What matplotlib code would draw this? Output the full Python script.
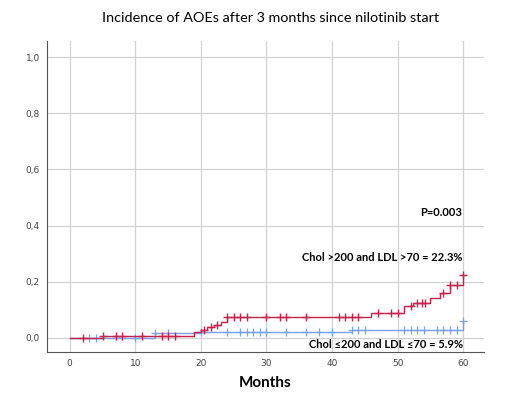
import matplotlib.pyplot as plt
import numpy as np

plt.rcParams['font.family'] = ['Lato', 'DejaVu Sans']

# cumulative incidence steps (months, value)
red_step_x = [0, 5, 19, 20, 21, 22, 23, 24, 46, 51, 52.4, 55, 56.5, 58, 60]
red_step_y = [0, 0.008, 0.02, 0.03, 0.038, 0.046, 0.058, 0.073, 0.09, 0.114, 0.126, 0.144, 0.16, 0.19, 0.223]
red_censor = [2, 5, 7, 8, 11, 14, 15, 16, 20.5, 21.5, 22.5, 24, 25, 26, 27, 30, 32, 33, 36,
              41, 42, 43, 44, 47, 49, 50, 52, 53, 53.7, 54.2, 57, 58, 59, 60]

blue_step_x = [0, 13, 20, 43, 60]
blue_step_y = [0, 0.018, 0.022, 0.028, 0.059]
blue_censor = [3, 4, 10, 13, 15, 20, 24, 26, 27, 28, 29, 30, 33, 36, 38, 40, 43, 44, 45,
               51, 52, 53, 54, 56, 57, 58, 59, 60]

red = '#C4234C'
blue = '#7AA2E3'


def censor_y(step_x, step_y, times):
    idx = np.searchsorted(step_x, times, side='right') - 1
    return np.array(step_y)[idx]


fig = plt.figure(figsize=(5.2, 3.94), dpi=100)
ax = fig.add_axes([0.090, 0.1066, 0.841, 0.789])

ax.step(blue_step_x, blue_step_y, where='post', color=blue, linewidth=1.0)
ax.plot(blue_censor, censor_y(blue_step_x, blue_step_y, blue_censor), '+',
        color=blue, markersize=6, markeredgewidth=0.9)
ax.step(red_step_x, red_step_y, where='post', color=red, linewidth=1.0)
ax.plot(red_censor, censor_y(red_step_x, red_step_y, red_censor), '+',
        color=red, markersize=6, markeredgewidth=1.0)

ax.set_xlim(-3.5, 63.2)
ax.set_ylim(-0.05, 1.057)
ax.set_xticks(range(0, 61, 10))
ax.set_yticks([0, 0.2, 0.4, 0.6, 0.8, 1.0])
ax.set_yticklabels(['0,0', '0,2', '0,4', '0,6', '0,8', '1,0'])
ax.tick_params(length=0, labelsize=6.5, colors='#444444', pad=5)
for lbl in ax.get_xticklabels() + ax.get_yticklabels():
    lbl.set_family('DejaVu Sans')
ax.grid(True, color='#d2d2d2', linewidth=0.9)
ax.set_axisbelow(True)
for s in ['top', 'right']:
    ax.spines[s].set_visible(False)
for s in ['left', 'bottom']:
    ax.spines[s].set_color('#555555')

ax.text(59.9, 0.448, 'P=0.003', ha='right', va='center', fontsize=8, fontweight='bold')
ax.text(59.9, 0.288, 'Chol >200 and LDL >70 = 22.3%', ha='right', va='center',
        fontsize=8, fontweight='bold')
ax.text(60, -0.025, 'Chol ≤200 and LDL ≤70 = 5.9%', ha='right', va='center',
        fontsize=8, fontweight='bold')

ax.set_xlabel('Months', fontsize=11, fontweight='bold', labelpad=6)
fig.suptitle('Incidence of AOEs after 3 months since nilotinib start', fontsize=10.4,
             x=0.52, y=0.97)

fig.savefig('out.png', dpi=100)
